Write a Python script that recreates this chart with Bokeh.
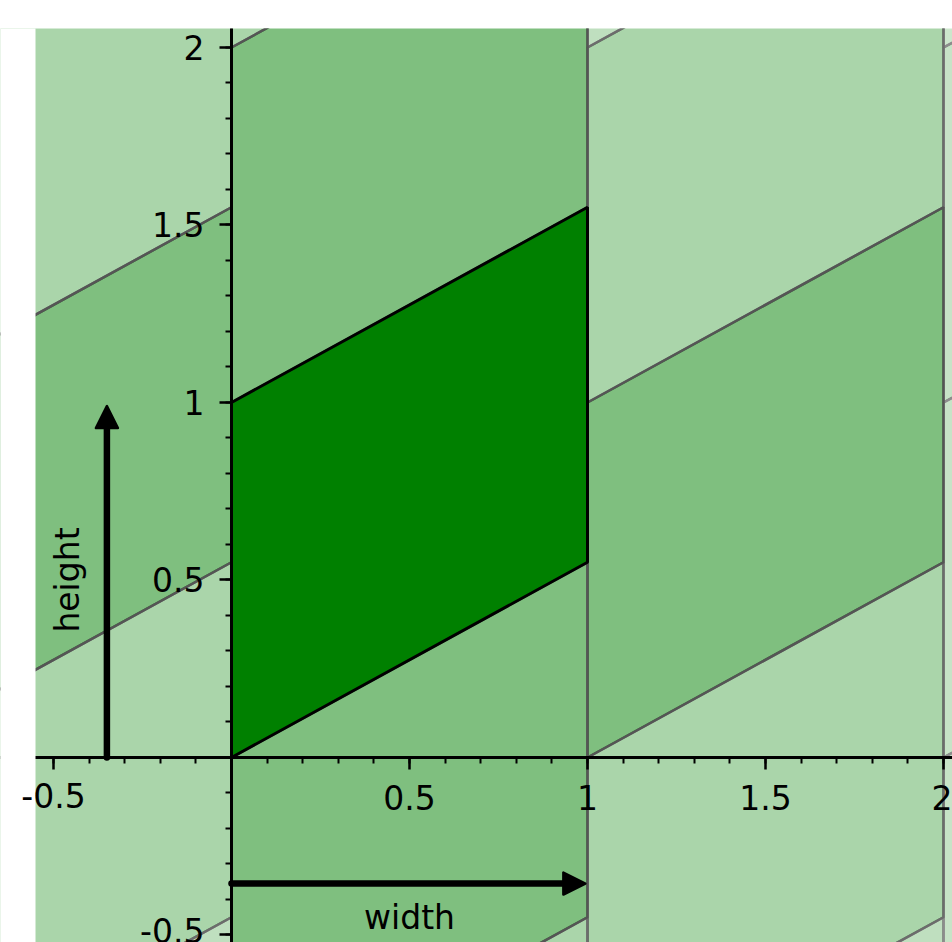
import numpy as np
from bokeh.plotting import figure
from bokeh.models import (FixedTicker, Arrow, NormalHead, Range1d, ColumnDataSource, Label,
                          BoxAnnotation)
from bokeh.core.properties import value
from bokeh.embed import file_html
from bokeh.resources import INLINE

# ---- data ----
GREEN = "#008000"
BASE_X = [0.0, 1.0, 1.0, 0.0]          # parallelogram (width 1, height 1, shear 0.55)
BASE_Y = [0.0, 0.55, 1.55, 1.0]

TILE_I = [-1, -1, -1, -1, 0, 0, 0, 0, 1, 1, 1, 1, 1, 2, 2, 2, 2]
TILE_J = [-2, -1, 0, 1, -2, -1, 1, 2, -2, -1, 0, 1, 2, -1, 0, 1, 2]
TILE_ALPHA = [0.25, 1/3, 0.5, 1/3, 1/3, 0.5, 0.5, 1/3,
              0.25, 1/3, 0.5, 1/3, 0.25, 0.22, 0.22, 0.22, 0.2]

X_TICKS = [-0.5, 0.0, 0.5, 1.0, 1.5, 2.0]
X_TICK_LABELS = ["-0.5", "", "0.5", "1", "1.5", "2"]
Y_TICKS = [-0.5, 0.0, 0.5, 1.0, 1.5, 2.0]
Y_TICK_LABELS = ["-0.5", "", "0.5", "1", "1.5", "2"]

X_VIEW_START = -0.55056        # left edge of the plotted region
ARROW_OFFSET = -0.35
LABEL_TEXT = ["width", "height"]
LABEL_X = [0.5, -0.46]
LABEL_Y = [-0.45, 0.5]
LABEL_ANGLE = [0.0, np.pi / 2]

FONT = "DejaVu Sans"
TICK_FONT_SIZE = "33px"


def edge_color(a):
    if a >= 0.5:
        return "#555555"
    if a >= 0.3:
        return "#6c6c6c"
    return "#8c8c8c"


# ---- figure ----
p = figure(width=952, height=942, output_backend="svg", toolbar_location=None,
           x_range=Range1d(-0.648876, 2.02528), y_range=Range1d(-0.52113, 2.05352),
           min_border_left=0, min_border_top=28, min_border_right=0, min_border_bottom=0)
p.outline_line_color = None
p.grid.visible = False
p.background_fill_color = "white"
p.border_fill_color = "white"

order = np.argsort(TILE_ALPHA, kind="stable")      # lighter tiles first, darker edges on top
xs = [[bx + TILE_I[k] for bx in BASE_X] for k in order]
ys = [[by + TILE_J[k] for by in BASE_Y] for k in order]
alphas = [TILE_ALPHA[k] for k in order]
src = ColumnDataSource(dict(xs=xs, ys=ys, alpha=alphas,
                            edge=[edge_color(a) for a in alphas]))
p.patches("xs", "ys", source=src, fill_color=GREEN, fill_alpha="alpha",
          line_color="edge", line_width=2.5)
p.patch(BASE_X, BASE_Y, fill_color=GREEN, line_color="black", line_width=3)

# axes through origin
for ax, ticks, labels in ((p.xaxis[0], X_TICKS, X_TICK_LABELS), (p.yaxis[0], Y_TICKS, Y_TICK_LABELS)):
    ax.fixed_location = 0
    ax.ticker = FixedTicker(ticks=ticks, minor_ticks=[round(v, 2) for v in np.arange(-0.5, 2.6, 0.1)])
    ax.major_label_overrides = dict(zip(ticks, labels))
    ax.axis_line_width = 3
    ax.axis_line_color = "black"
    ax.major_tick_line_width = 2.5
    ax.minor_tick_line_width = 2
    ax.major_tick_out = 12
    ax.major_tick_in = 0
    ax.minor_tick_out = 6
    ax.minor_tick_in = 0
    ax.major_label_text_font = FONT
    ax.major_label_text_font_size = TICK_FONT_SIZE
    ax.major_label_text_color = "black"
p.xaxis.major_label_standoff = 16
p.yaxis.major_label_standoff = 15

# white margin left of the plotted region (covers tiles and the axis line there)
p.add_layout(BoxAnnotation(left=-2, right=X_VIEW_START, top=5, bottom=-5,
                           fill_color="white", fill_alpha=1.0, line_alpha=0, line_width=0))
# the leftmost x tick label overhangs that margin: draw it above the margin
p.xaxis[0].major_label_overrides = {**dict(zip(X_TICKS, X_TICK_LABELS)), X_TICKS[0]: ""}
p.add_layout(Label(x=X_TICKS[0], y=0, text=X_TICK_LABELS[0], text_align="center",
                   text_baseline="top", y_offset=-26, text_font=FONT,
                   text_font_size=TICK_FONT_SIZE, text_color="black"))

# arrows: round-capped shafts ending under the heads, then the heads
HEAD_LEN = 0.05
p.add_layout(Arrow(end=None, x_start=ARROW_OFFSET, y_start=BASE_Y[0],
                   x_end=ARROW_OFFSET, y_end=BASE_Y[3] - 0.01 - HEAD_LEN,
                   line_width=6.5, line_cap="round", line_color="black"))
p.add_layout(Arrow(end=None, x_start=BASE_X[0], y_start=ARROW_OFFSET - 0.005,
                   x_end=BASE_X[1] - 0.006 - HEAD_LEN, y_end=ARROW_OFFSET - 0.005,
                   line_width=6.5, line_cap="round", line_color="black"))
head = dict(size=22, fill_color="black", line_color="black", line_width=2.5, line_join="round")
p.add_layout(Arrow(end=NormalHead(**head), x_start=ARROW_OFFSET, y_start=BASE_Y[3] - 0.01 - 2 * HEAD_LEN,
                   x_end=ARROW_OFFSET, y_end=BASE_Y[3] - 0.01, line_alpha=0))
p.add_layout(Arrow(end=NormalHead(**head), x_start=BASE_X[1] - 0.006 - 2 * HEAD_LEN,
                   y_start=ARROW_OFFSET - 0.005,
                   x_end=BASE_X[1] - 0.006, y_end=ARROW_OFFSET - 0.005, line_alpha=0))

p.text(x=LABEL_X, y=LABEL_Y, text=LABEL_TEXT, angle=LABEL_ANGLE,
       text_font=value(FONT), text_font_size="33px", text_color="black",
       text_align="center", text_baseline="middle")

open("out.html", "w").write(file_html(p, INLINE))
